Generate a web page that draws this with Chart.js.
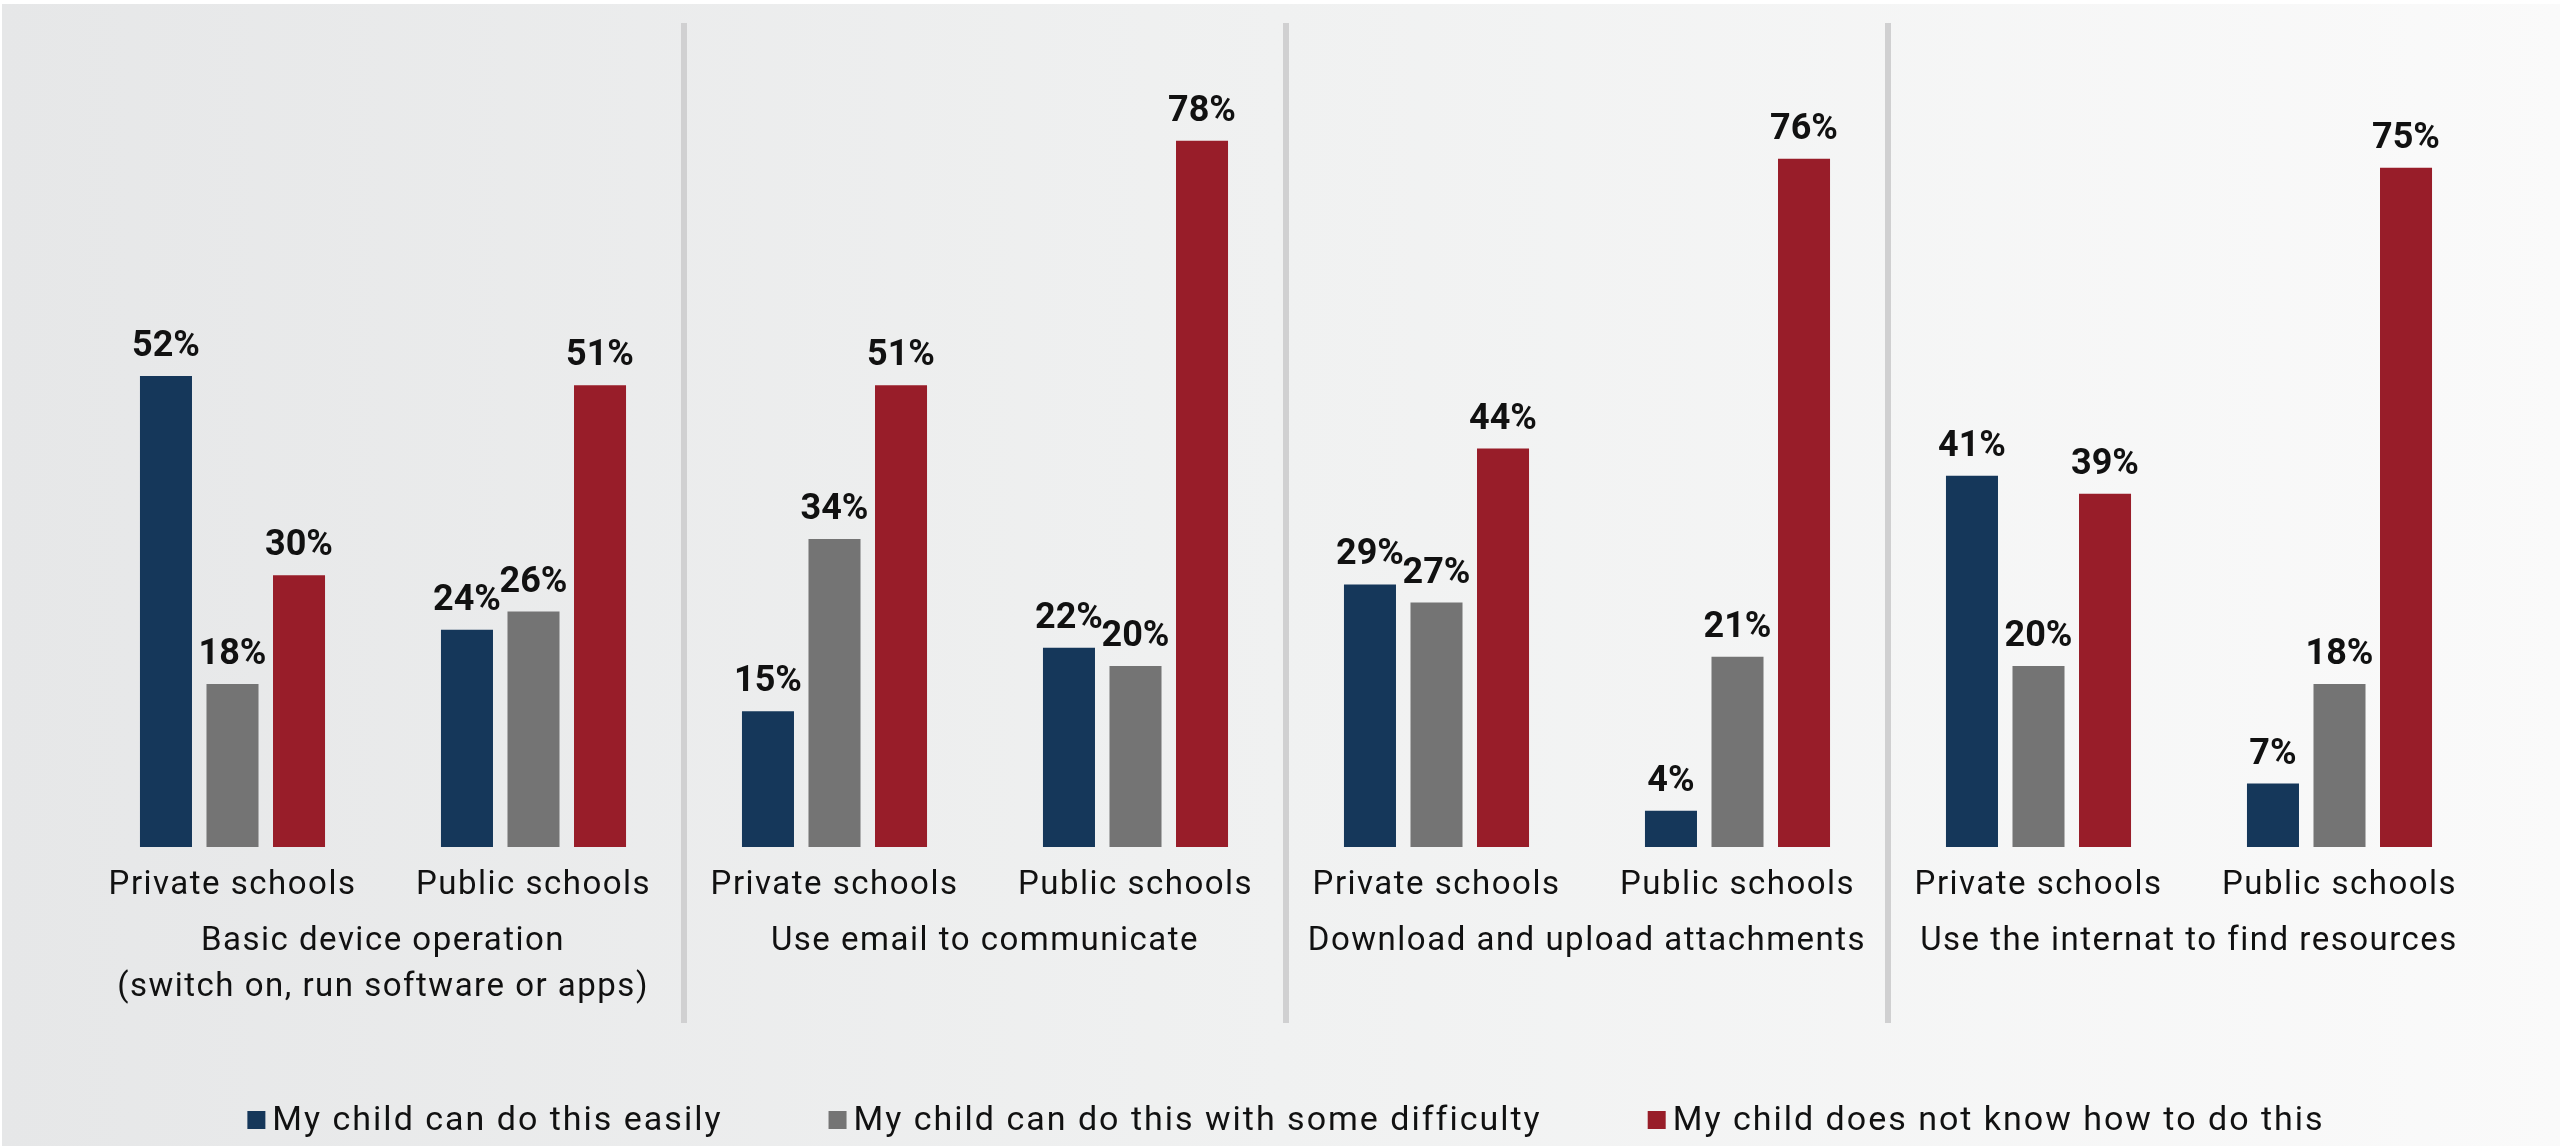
<!DOCTYPE html>
<html>
<head>
    <title>Children's digital skills by school type</title>
    <script src="https://cdn.jsdelivr.net/npm/chart.js"></script>
    <style>
        html, body {
            margin: 0;
            padding: 0;
            background: #ffffff;
            overflow: hidden;
        }
        .backdrop {
            position: absolute;
            top: 4px;
            left: 2px;
            right: 0;
            bottom: 0;
            background: linear-gradient(to right, #e6e7e8, #f0f1f1 50%, #fafafa);
        }
        .chart-box {
            position: absolute;
            top: 0;
            left: 0;
            width: 2560px;
            height: 1146px;
        }
    </style>
</head>
<body>
    <div class="backdrop"></div>
    <div class="chart-box">
        <canvas id="skillsChart"></canvas>
    </div>

    <script>
        // school type under each group of bars
        const schoolTypes = [
            "Private schools", "Public schools",
            "Private schools", "Public schools",
            "Private schools", "Public schools",
            "Private schools", "Public schools"
        ];
        // one task per pair of school types
        const taskLabels = [
            ["Basic device operation", "(switch on, run software or apps)"],
            "Use email to communicate",
            "Download and upload attachments",
            "Use the internat to find resources"
        ];
        const seriesNames = [
            "My child can do this easily",
            "My child can do this with some difficulty",
            "My child does not know how to do this"
        ];
        const doesEasily = [52, 24, 15, 22, 29, 4, 41, 7];
        const withDifficulty = [18, 26, 34, 20, 27, 21, 20, 18];
        const doesNotKnow = [30, 51, 51, 78, 44, 76, 39, 75];
        const seriesColors = ["#15375a", "#747474", "#981d29"];

        const textColor = "#111111";
        Chart.defaults.font.family = "Roboto, 'Liberation Sans', sans-serif";
        Chart.defaults.color = textColor;

        // thin grey rules between the four task panels
        const panelDividers = {
            id: "panelDividers",
            beforeDatasetsDraw(chart) {
                const x = chart.scales.x;
                const ctx = chart.ctx;
                ctx.save();
                ctx.strokeStyle = "#d0d0d1";
                ctx.lineWidth = 6;
                for (let i = 1; i < schoolTypes.length - 1; i += 2) {
                    const px = (x.getPixelForValue(i) + x.getPixelForValue(i + 1)) / 2;
                    ctx.beginPath();
                    ctx.moveTo(px, 23);
                    ctx.lineTo(px, 1023);
                    ctx.stroke();
                }
                ctx.restore();
            }
        };

        // percentage printed above every bar
        const valueLabels = {
            id: "valueLabels",
            afterDatasetsDraw(chart) {
                const ctx = chart.ctx;
                ctx.save();
                ctx.letterSpacing = "0px";
                ctx.font = "bold 36px Roboto, 'Liberation Sans', sans-serif";
                ctx.fillStyle = textColor;
                ctx.textAlign = "center";
                ctx.textBaseline = "alphabetic";
                chart.data.datasets.forEach((ds, di) => {
                    chart.getDatasetMeta(di).data.forEach((bar, i) => {
                        ctx.fillText(ds.data[i] + "%", bar.x, bar.y - 20);
                    });
                });
                ctx.restore();
            }
        };

        // legend row along the bottom, small square markers
        const bottomLegend = {
            id: "bottomLegend",
            afterDraw(chart) {
                const ctx = chart.ctx;
                const box = 18, gap = 7, spacing = 106, y = 1120;
                ctx.save();
                ctx.letterSpacing = "2px";
                ctx.font = "34px Roboto, 'Liberation Sans', sans-serif";
                ctx.textBaseline = "middle";
                ctx.textAlign = "left";
                const items = chart.data.datasets.map(ds => ({
                    text: ds.label,
                    color: ds.backgroundColor,
                    width: ctx.measureText(ds.label).width
                }));
                let total = 0;
                items.forEach((it, i) => {
                    total += box + gap + it.width + (i < items.length - 1 ? spacing : 0);
                });
                const area = chart.chartArea;
                let cx = (area.left + area.right) / 2 - total / 2;
                items.forEach(it => {
                    ctx.fillStyle = it.color;
                    ctx.fillRect(cx, y - box / 2, box, box);
                    ctx.fillStyle = textColor;
                    ctx.fillText(it.text, cx + box + gap, y + 1);
                    cx += box + gap + it.width + spacing;
                });
                ctx.restore();
            }
        };

        // slightly tracked text, like the rest of the report
        const tracking = {
            id: "tracking",
            beforeLayout(chart) { chart.ctx.letterSpacing = "1.5px"; },
            beforeDraw(chart) { chart.ctx.letterSpacing = "1.5px"; }
        };

        const ctx = document.getElementById("skillsChart").getContext("2d");
        new Chart(ctx, {
            type: "bar",
            data: {
                labels: schoolTypes,
                datasets: [
                    { label: seriesNames[0], data: doesEasily, backgroundColor: seriesColors[0] },
                    { label: seriesNames[1], data: withDifficulty, backgroundColor: seriesColors[1] },
                    { label: seriesNames[2], data: doesNotKnow, backgroundColor: seriesColors[2] }
                ]
            },
            options: {
                responsive: true,
                maintainAspectRatio: false,
                animation: false,
                categoryPercentage: 0.663,
                barPercentage: 0.782,
                layout: {
                    padding: { left: 82, right: 70, top: 32, bottom: 123 }
                },
                plugins: {
                    legend: { display: false },
                    tooltip: { enabled: false }
                },
                scales: {
                    y: {
                        display: false,
                        min: 0,
                        max: 90
                    },
                    x: {
                        weight: 0,
                        grid: { display: false, drawTicks: false },
                        border: { display: false },
                        ticks: {
                            autoSkip: false,
                            maxRotation: 0,
                            padding: 19,
                            font: { size: 33 }
                        },
                        afterFit(scale) { scale.height = 64; }
                    },
                    x2: {
                        type: "category",
                        position: "bottom",
                        weight: 1,
                        labels: taskLabels,
                        offset: true,
                        grid: { display: false, drawTicks: false },
                        border: { display: false },
                        ticks: {
                            autoSkip: false,
                            maxRotation: 0,
                            padding: 8,
                            font: { size: 33, lineHeight: 1.39 }
                        },
                        afterFit(scale) { scale.height = 112; }
                    }
                }
            },
            plugins: [tracking, panelDividers, valueLabels, bottomLegend]
        });
    </script>
</body>
</html>
